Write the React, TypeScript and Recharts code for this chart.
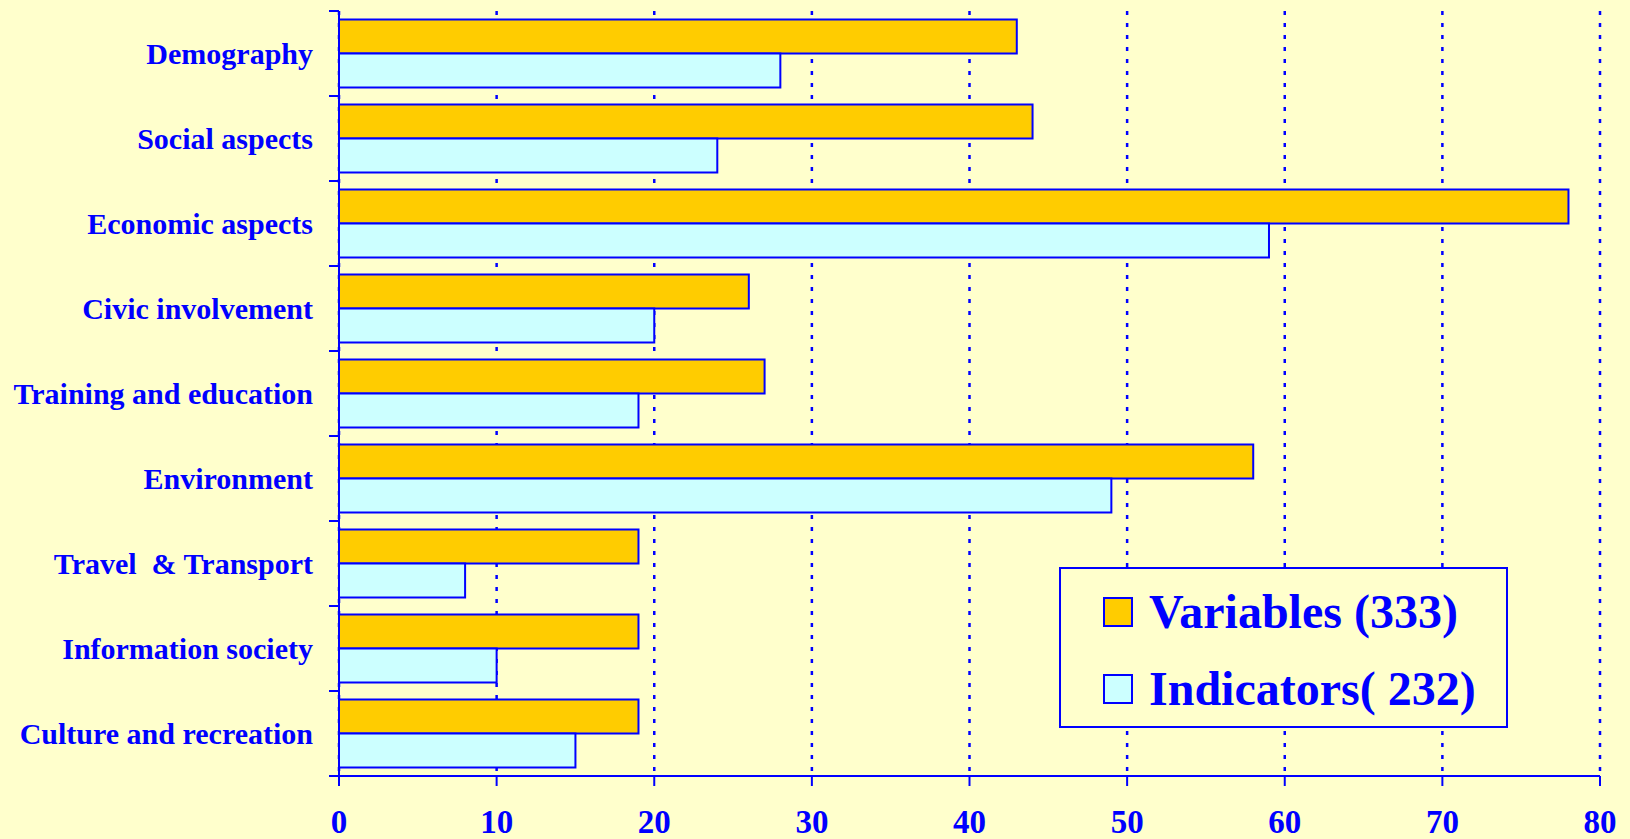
import React from "react";
import {
  BarChart,
  Bar,
  XAxis,
  YAxis,
  CartesianGrid,
  Legend,
} from "recharts";

const categories = [
  "Demography",
  "Social aspects",
  "Economic aspects",
  "Civic involvement",
  "Training and education",
  "Environment",
  "Travel  & Transport",
  "Information society",
  "Culture and recreation",
];
const variables = [43, 44, 78, 26, 27, 58, 19, 19, 19];
const indicators = [28, 24, 59, 20, 19, 49, 8, 10, 15];
const xTicks = [0, 10, 20, 30, 40, 50, 60, 70, 80];
const seriesOrder = ["variables", "indicators"];

const BLUE = "#0000FF";
const FONT = "'Liberation Serif', 'Times New Roman', serif";

const data = categories.map((name, i) => ({
  name,
  variables: variables[i],
  indicators: indicators[i],
}));

function CategoryTick(props: any) {
  const { x, y, payload, index, visibleTicksCount } = props;
  const half = payload.offset ?? 42.5;
  const isLast = index === visibleTicksCount - 1;
  return (
    <g>
      <line x1={x + 16} x2={x + 26} y1={y - half} y2={y - half} stroke={BLUE} strokeWidth={2} />
      {isLast && (
        <line x1={x + 16} x2={x + 26} y1={y + half} y2={y + half} stroke={BLUE} strokeWidth={2} />
      )}
      <text
        x={x}
        y={y}
        dy="0.35em"
        textAnchor="end"
        fill={BLUE}
        fontSize={30}
        fontWeight="bold"
        fontFamily={FONT}
        style={{ whiteSpace: "pre" }}
      >
        {payload.value}
      </text>
    </g>
  );
}

function LegendBox(props: any) {
  const items = [...(props.payload || [])].sort(
    (a: any, b: any) => seriesOrder.indexOf(a.dataKey) - seriesOrder.indexOf(b.dataKey)
  );
  return (
    <div style={{ paddingTop: 4 }}>
      {items.map((entry: any) => (
        <div
          key={entry.value}
          style={{
            display: "flex",
            alignItems: "center",
            height: 77,
            paddingLeft: 42,
          }}
        >
          <span
            style={{
              display: "inline-block",
              width: 30,
              height: 30,
              boxSizing: "border-box",
              border: `2px solid ${BLUE}`,
              background: entry.color,
              marginRight: 16,
            }}
          />
          <span
            style={{
              color: BLUE,
              fontFamily: FONT,
              fontWeight: "bold",
              fontSize: 48,
              lineHeight: 1,
              whiteSpace: "pre",
            }}
          >
            {entry.value}
          </span>
        </div>
      ))}
    </div>
  );
}

export default function App() {
  return (
    <div
      style={{
        position: "absolute",
        left: 0,
        top: 0,
        width: 1630,
        height: 839,
        background: "#FFFFCC",
      }}
    >
      <BarChart
        width={1630}
        height={839}
        data={data}
        layout="vertical"
        margin={{ top: 11, right: 30, bottom: 0, left: 0 }}
        barCategoryGap="10%"
        barGap={0}
      >
        <CartesianGrid
          horizontal={false}
          vertical={true}
          stroke={BLUE}
          strokeWidth={2.5}
          strokeDasharray="4 8"
        />
        <XAxis
          type="number"
          domain={[0, 80]}
          ticks={xTicks}
          interval={0}
          height={63}
          tickSize={10}
          tickMargin={24}
          axisLine={{ stroke: BLUE, strokeWidth: 2 }}
          tickLine={{ stroke: BLUE, strokeWidth: 2 }}
          tick={{ fill: BLUE, fontSize: 33, fontWeight: "bold", fontFamily: FONT }}
        />
        <YAxis
          type="category"
          dataKey="name"
          width={339}
          interval={0}
          tickSize={10}
          tickMargin={16}
          axisLine={{ stroke: BLUE, strokeWidth: 2 }}
          tickLine={false}
          tick={<CategoryTick />}
        />
        <Legend
          layout="vertical"
          align="center"
          verticalAlign="middle"
          content={<LegendBox />}
          wrapperStyle={{
            left: 1059,
            top: 567,
            width: 449,
            height: 161,
            border: `2px solid ${BLUE}`,
            boxSizing: "border-box",
            background: "#FFFFCC",
          }}
        />
        <Bar
          dataKey="variables"
          name="Variables (333)"
          fill="#FFCC00"
          stroke={BLUE}
          strokeWidth={2}
          isAnimationActive={false}
        />
        <Bar
          dataKey="indicators"
          name="Indicators( 232)"
          fill="#CCFFFF"
          stroke={BLUE}
          strokeWidth={2}
          isAnimationActive={false}
        />
      </BarChart>
    </div>
  );
}
